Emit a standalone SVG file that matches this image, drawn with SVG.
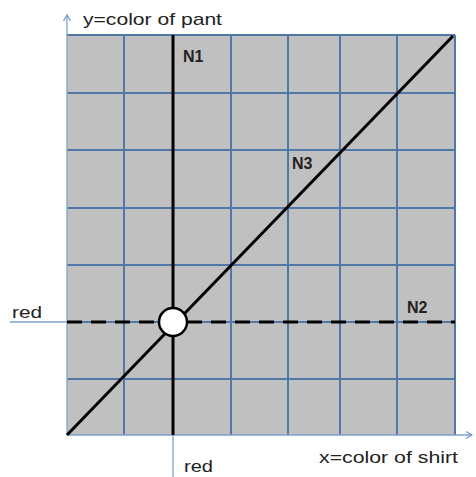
<svg xmlns="http://www.w3.org/2000/svg" width="476" height="477" viewBox="0 0 476 477">
<defs>
<marker id="arr" markerWidth="8" markerHeight="8" refX="7" refY="4" orient="auto" markerUnits="userSpaceOnUse">
<path d="M1,0.5 L7,4 L1,7.5" fill="none" stroke="#6f95c8" stroke-width="1.2"/>
</marker>
<style>
.grid{stroke:#4f77a8;stroke-width:2}
.axis{stroke:#7fa2cf;stroke-width:1.3;fill:none}
.lbl{font-family:"Liberation Sans",Arial,sans-serif;font-size:17px;fill:#222}
.nl{font-family:"Liberation Sans",Arial,sans-serif;font-size:16px;font-weight:bold;fill:#222}
.blk{stroke:#000;stroke-width:3;fill:none}
</style>
</defs>
<rect width="476" height="477" fill="#fff"/>
<g id="grid">
<rect x="67" y="35" width="388" height="400" fill="#c0c0c0"/>
<path class="grid" d="M124,35V435M231,35V435M288,35V435M340,35V435M397,35V435M455,35V435M67,93H455M67,150H455M67,208H455M67,265H455M67,322H455M67,379H455M67,35H455"/>
</g>
<g id="axes">
<line class="axis" x1="67" y1="435" x2="67" y2="15" marker-end="url(#arr)"/>
<line class="axis" x1="67" y1="435" x2="472" y2="435" marker-end="url(#arr)"/>
<line class="axis" x1="10" y1="322" x2="67" y2="322"/>
<line class="axis" x1="173" y1="435" x2="173" y2="477"/>
<text class="lbl" x="83" y="25" textLength="139" lengthAdjust="spacingAndGlyphs">y=color of pant</text>
<text class="lbl" x="319" y="463" textLength="139" lengthAdjust="spacingAndGlyphs">x=color of shirt</text>
<text class="lbl" x="12" y="318" textLength="30" lengthAdjust="spacingAndGlyphs">red</text>
<text class="lbl" x="184" y="472" textLength="29" lengthAdjust="spacingAndGlyphs">red</text>
</g>
<g id="connectors">
<line id="N1" class="blk" x1="173" y1="35" x2="173" y2="435"/>
<line id="N2" class="blk" x1="67" y1="322" x2="455" y2="322" stroke-dasharray="15,9"/>
<line id="N3" class="blk" x1="67" y1="435" x2="453" y2="36"/>
</g>
<g id="labels">
<text class="nl" x="183" y="62">N1</text>
<text class="nl" x="407" y="313">N2</text>
<text class="nl" x="292" y="169">N3</text>
</g>
<g id="node">
<circle cx="173" cy="322" r="14" fill="#fff" stroke="#000" stroke-width="2.5"/>
</g>
</svg>
